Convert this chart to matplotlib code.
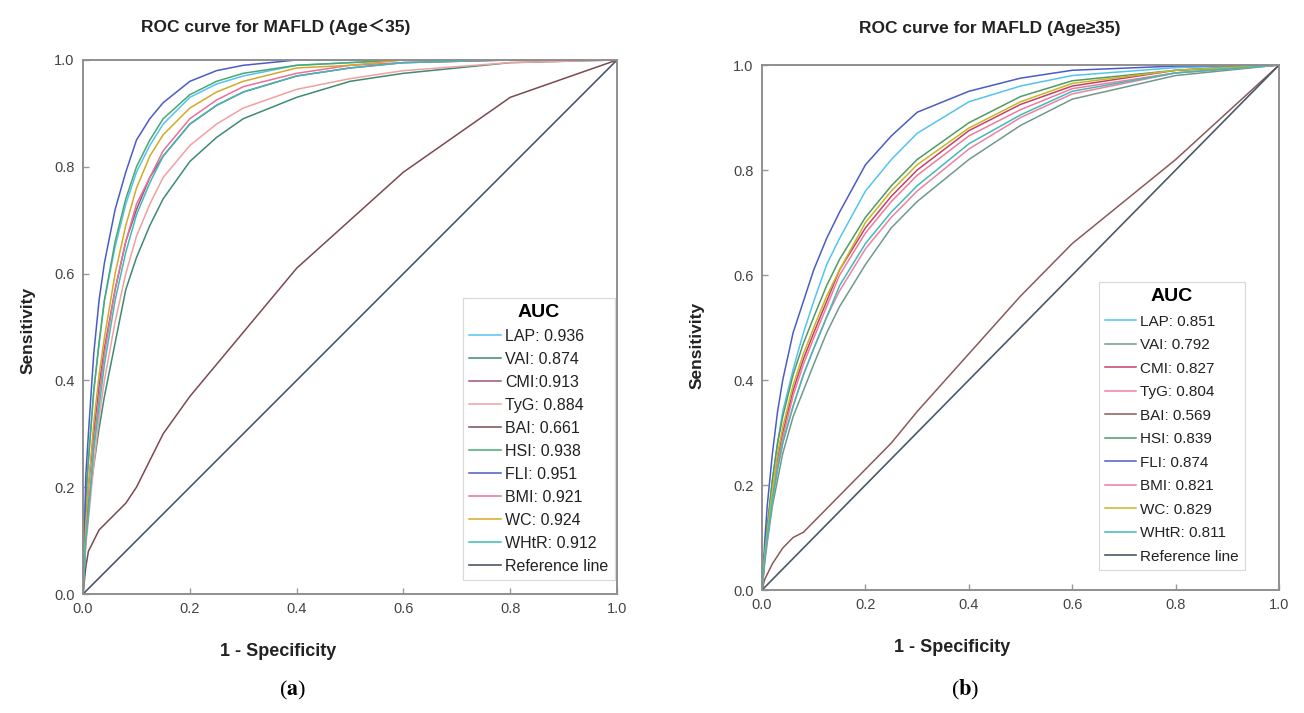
import matplotlib
matplotlib.use('Agg')
from matplotlib import pyplot as plt

plt.rcParams['font.family'] = ['Liberation Sans', 'Noto Sans CJK SC', 'DejaVu Sans']
plt.rcParams['mathtext.fontset'] = 'stix'

# false positive rate grid
fpr = [0, 0.005, 0.01, 0.02, 0.03, 0.04, 0.06, 0.08, 0.1, 0.125, 0.15,
       0.2, 0.25, 0.3, 0.4, 0.5, 0.6, 0.8, 1.0]

names = ['LAP', 'VAI', 'CMI', 'TyG', 'BAI', 'HSI', 'FLI', 'BMI', 'WC', 'WHtR']
colors_a = ['#55c3f0', '#3e8a72', '#a0527e', '#f2a0a0', '#7a4a50',
            '#4aa870', '#4b5cc4', '#e8709a', '#d4a828', '#3cbcb8']
colors_b = ['#55c3f0', '#6f9a8a', '#c2416b', '#f080a0', '#8a5a5a',
            '#4f9a6a', '#4b5cc4', '#f07a9a', '#c8b820', '#3cbcb8']
ref_color = '#4a5a68'

# (a) Age < 35
auc_a = ['0.936', '0.874', '0.913', '0.884', '0.661', '0.938', '0.951', '0.921', '0.924', '0.912']
sep_a = [': ', ': ', ':', ': ', ': ', ': ', ': ', ': ', ': ', ': ']
tpr_a = {
    'LAP':  [0, 0.17, 0.25, 0.38, 0.47, 0.55, 0.65, 0.73, 0.79, 0.84, 0.88, 0.93, 0.955, 0.97, 0.99, 0.995, 1, 1, 1],
    'VAI':  [0, 0.11, 0.17, 0.24, 0.31, 0.37, 0.47, 0.57, 0.63, 0.69, 0.74, 0.81, 0.855, 0.89, 0.93, 0.96, 0.975, 0.995, 1],
    'CMI':  [0, 0.13, 0.20, 0.30, 0.39, 0.46, 0.57, 0.66, 0.72, 0.78, 0.82, 0.88, 0.915, 0.94, 0.97, 0.985, 0.995, 1, 1],
    'TyG':  [0, 0.09, 0.14, 0.24, 0.33, 0.40, 0.51, 0.60, 0.67, 0.73, 0.78, 0.84, 0.88, 0.91, 0.945, 0.965, 0.98, 0.995, 1],
    'BAI':  [0, 0.05, 0.08, 0.10, 0.12, 0.13, 0.15, 0.17, 0.20, 0.25, 0.30, 0.37, 0.43, 0.49, 0.61, 0.70, 0.79, 0.93, 1],
    'HSI':  [0, 0.18, 0.25, 0.38, 0.47, 0.55, 0.66, 0.74, 0.80, 0.85, 0.89, 0.935, 0.96, 0.975, 0.99, 0.995, 1, 1, 1],
    'FLI':  [0, 0.22, 0.30, 0.45, 0.55, 0.62, 0.72, 0.79, 0.85, 0.89, 0.92, 0.96, 0.98, 0.99, 1, 1, 1, 1, 1],
    'BMI':  [0, 0.10, 0.15, 0.28, 0.37, 0.45, 0.57, 0.66, 0.73, 0.78, 0.83, 0.89, 0.925, 0.95, 0.975, 0.99, 0.995, 1, 1],
    'WC':   [0, 0.13, 0.20, 0.32, 0.41, 0.48, 0.60, 0.69, 0.76, 0.82, 0.86, 0.91, 0.94, 0.96, 0.985, 0.99, 1, 1, 1],
    'WHtR': [0, 0.10, 0.15, 0.27, 0.35, 0.43, 0.55, 0.64, 0.71, 0.77, 0.82, 0.88, 0.915, 0.94, 0.97, 0.985, 0.995, 1, 1],
}

# (b) Age >= 35
auc_b = ['0.851', '0.792', '0.827', '0.804', '0.569', '0.839', '0.874', '0.821', '0.829', '0.811']
sep_b = [': '] * 10
tpr_b = {
    'LAP':  [0, 0.07, 0.12, 0.21, 0.28, 0.34, 0.42, 0.49, 0.55, 0.62, 0.67, 0.76, 0.82, 0.87, 0.93, 0.96, 0.98, 0.995, 1],
    'VAI':  [0, 0.05, 0.09, 0.16, 0.21, 0.26, 0.33, 0.38, 0.43, 0.49, 0.54, 0.62, 0.69, 0.74, 0.82, 0.885, 0.935, 0.98, 1],
    'CMI':  [0, 0.06, 0.11, 0.18, 0.25, 0.30, 0.38, 0.44, 0.49, 0.55, 0.61, 0.69, 0.75, 0.80, 0.875, 0.925, 0.96, 0.99, 1],
    'TyG':  [0, 0.06, 0.10, 0.17, 0.23, 0.28, 0.35, 0.41, 0.46, 0.52, 0.57, 0.65, 0.71, 0.76, 0.84, 0.90, 0.945, 0.985, 1],
    'BAI':  [0, 0.02, 0.03, 0.05, 0.065, 0.08, 0.10, 0.11, 0.13, 0.155, 0.18, 0.23, 0.28, 0.34, 0.45, 0.56, 0.66, 0.82, 1],
    'HSI':  [0, 0.07, 0.12, 0.21, 0.28, 0.33, 0.41, 0.47, 0.52, 0.58, 0.63, 0.71, 0.77, 0.82, 0.89, 0.94, 0.97, 0.99, 1],
    'FLI':  [0, 0.09, 0.16, 0.26, 0.34, 0.40, 0.49, 0.55, 0.61, 0.67, 0.72, 0.81, 0.865, 0.91, 0.95, 0.975, 0.99, 0.998, 1],
    'BMI':  [0, 0.06, 0.10, 0.18, 0.24, 0.29, 0.37, 0.43, 0.48, 0.54, 0.60, 0.68, 0.74, 0.79, 0.865, 0.915, 0.955, 0.985, 1],
    'WC':   [0, 0.07, 0.11, 0.19, 0.26, 0.31, 0.39, 0.45, 0.50, 0.56, 0.61, 0.70, 0.76, 0.81, 0.88, 0.93, 0.965, 0.99, 1],
    'WHtR': [0, 0.06, 0.10, 0.17, 0.23, 0.28, 0.35, 0.41, 0.46, 0.52, 0.58, 0.66, 0.72, 0.77, 0.85, 0.905, 0.95, 0.985, 1],
}

ticks = [0, 0.2, 0.4, 0.6, 0.8, 1.0]
tick_labels = ['0.0', '0.2', '0.4', '0.6', '0.8', '1.0']


def draw(ax, tpr, aucs, seps, cols, fontsize, labelspacing, anchor):
    for name, auc, sep, col in zip(names, aucs, seps, cols):
        ax.plot(fpr, tpr[name], color=col, lw=1.1, label=f'{name}{sep}{auc}')
    ax.plot([0, 1], [0, 1], color=ref_color, lw=1.2, label='Reference line')
    ax.set_xlim(0, 1)
    ax.set_ylim(0, 1)
    ax.set_xticks(ticks)
    ax.set_yticks(ticks)
    ax.set_xticklabels(tick_labels)
    ax.set_yticklabels(tick_labels)
    ax.tick_params(direction='in', length=4, width=1, color='#999999',
                   labelsize=10.5, labelcolor='#444444', pad=6)
    for s in ax.spines.values():
        s.set_color('#8f8f8f')
        s.set_linewidth(1.4)
    leg = ax.legend(loc='lower right', bbox_to_anchor=anchor, fontsize=fontsize,
                    title='AUC', handlelength=2.0, handletextpad=0.25,
                    labelspacing=labelspacing, borderpad=0.4, borderaxespad=0.3,
                    fancybox=False, edgecolor='#d8d8d8', framealpha=1)
    leg.get_title().set_fontweight('bold')
    leg.get_title().set_fontsize(14)
    leg.get_frame().set_linewidth(0.8)
    for t in leg.get_texts():
        t.set_color('#222222')


fig = plt.figure(figsize=(13.04, 7.13), dpi=100)
ax1 = fig.add_axes([0.0637, 0.1669, 0.4095, 0.749])
ax2 = fig.add_axes([0.5844, 0.1725, 0.3965, 0.7363])

draw(ax1, tpr_a, auc_a, sep_a, colors_a, 11.5, 0.5, (1.005, 0.017))
draw(ax2, tpr_b, auc_b, sep_b, colors_b, 11.0, 0.62, (0.942, 0.03))

fig.text(276 / 1304, 1 - 27 / 713, 'ROC curve for MAFLD (Age＜35)', ha='center', va='center',
         fontsize=12.5, fontweight='bold', color='#222222')
fig.text(990 / 1304, 1 - 29 / 713, 'ROC curve for MAFLD (Age≥35)', ha='center', va='center',
         fontsize=12.5, fontweight='bold', color='#222222')

fig.text(278 / 1304, 1 - 652 / 713, '1 - Specificity', ha='center', va='center',
         fontsize=13, fontweight='bold', color='#222222')
fig.text(952 / 1304, 1 - 648 / 713, '1 - Specificity', ha='center', va='center',
         fontsize=13, fontweight='bold', color='#222222')

fig.text(28 / 1304, 1 - 330 / 713, 'Sensitivity', ha='center', va='center', rotation=90,
         fontsize=12.5, fontweight='bold', color='#222222')
fig.text(697 / 1304, 1 - 345 / 713, 'Sensitivity', ha='center', va='center', rotation=90,
         fontsize=12.5, fontweight='bold', color='#222222')

fig.text(293 / 1304, 1 - 690 / 713, r'($\mathbf{a}$)', ha='center', va='center',
         fontsize=16, family='Liberation Serif')
fig.text(965 / 1304, 1 - 690 / 713, r'($\mathbf{b}$)', ha='center', va='center',
         fontsize=16, family='Liberation Serif')

fig.savefig('out.png', dpi=100)
